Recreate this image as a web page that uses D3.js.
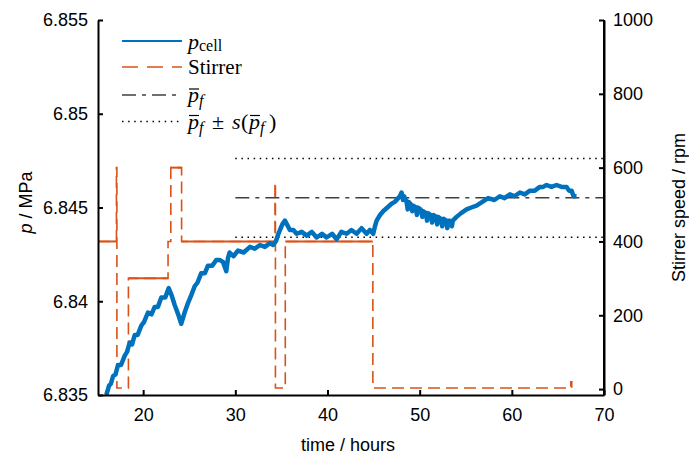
<!DOCTYPE html>
<html>
<head>
<meta charset="utf-8">
<script src="https://cdn.jsdelivr.net/npm/d3@7"></script>
<style>
  body { margin: 0; background: #fff; }
  svg { display: block; font-family: "Liberation Sans", Arial, sans-serif; }
</style>
</head>
<body>
<svg id="chart" width="689" height="454"></svg>
<script>
// time (hours), cell pressure (MPa)
var pcell = [
  [16.0,6.8350],[16.3,6.8355],[16.5,6.8356],[16.73,6.8360],[17.0,6.8361],[17.27,6.8366],
  [17.6,6.8366],[18.0,6.8371],[18.25,6.8373],[18.54,6.8378],[18.8,6.8377],[19.08,6.8382],
  [19.4,6.8382],[19.8,6.8387],[20.1,6.8389],[20.52,6.8394],[20.9,6.8393],[21.25,6.8397],
  [21.6,6.8397],[21.97,6.8402],[22.4,6.8402],[22.77,6.8407],[23.1,6.8403],[23.42,6.8398],
  [23.8,6.8393],[24.13,6.8388],[24.5,6.8394],[24.86,6.8399],[25.2,6.8403],[25.59,6.8408],
  [25.9,6.8410],[26.3,6.8415],[26.7,6.8415],[27.03,6.8419],[27.5,6.8419],[27.93,6.8422],
  [28.3,6.8422],[28.66,6.8421],[29.02,6.8416],[29.2,6.8423],[29.38,6.8426],[29.8,6.8424],
  [30.28,6.8427],[30.9,6.8426],[31.59,6.8429],[32.1,6.8428],[32.67,6.8430],[33.2,6.8429],
  [33.76,6.8431],[34.1,6.8430],[34.41,6.8432],[34.6,6.8435],[34.84,6.8438],[35.1,6.8441],
  [35.38,6.8443],[35.6,6.8441],[35.92,6.8438],[36.3,6.8438],[36.65,6.8436],[37.2,6.8437],
  [37.74,6.8435],[38.3,6.8437],[38.82,6.8434],[39.4,6.8436],[39.9,6.8434],[40.5,6.8436],
  [40.99,6.8433],[41.5,6.8437],[42.07,6.8436],[42.6,6.8438],[43.16,6.8436],[43.7,6.8439],
  [44.24,6.8436],[44.6,6.8438],[44.96,6.8436],[45.15,6.8440],[45.33,6.8443],[45.7,6.8446],
  [46.04,6.8448],[46.5,6.8450],[46.95,6.8452],[47.3,6.8453],[47.67,6.8455],[47.85,6.8456],
  [48.04,6.8458],[48.2,6.8454],[48.3,6.8456],[48.58,6.8453],[48.7,6.8449],[48.8,6.8453],
  [49.0,6.8452],[49.2,6.8448],[49.3,6.8451],[49.6,6.8450],[49.7,6.8446],[49.8,6.8450],
  [50.1,6.8449],[50.3,6.8445],[50.4,6.8448],[50.7,6.8447],[50.8,6.8443],[50.9,6.8447],
  [51.2,6.8446],[51.35,6.8442],[51.5,6.8446],[51.8,6.8445],[51.9,6.8441],[52.0,6.8445],
  [52.3,6.8444],[52.45,6.8440],[52.6,6.8444],[52.9,6.8443],[53.0,6.8439],[53.1,6.8443],
  [53.3,6.8443],[53.5,6.8440],[53.6,6.8443],[54.0,6.8445],[54.5,6.8447],[55.09,6.8449],
  [55.6,6.8450],[56.17,6.8451],[56.8,6.8453],[57.43,6.8455],[58.1,6.8454],[58.7,6.8456],
  [59.2,6.8455],[59.79,6.8457],[60.3,6.8456],[60.87,6.8458],[61.4,6.8457],[61.96,6.8459],
  [62.5,6.8459],[63.04,6.8461],[63.4,6.8461],[63.77,6.8462],[64.3,6.8461],[64.85,6.8462],
  [65.4,6.8461],[65.94,6.8461],[66.2,6.8459],[66.48,6.8459],[66.7,6.8456],[67.02,6.8456]
];

// time (hours), stirrer speed (rpm)
var stirrer = [
  [15.1,400],[17.1,400],[17.1,600],[17.15,600],[17.15,3],[18.4,3],[18.4,300],
  [22.7,300],[22.7,400],[23.0,400],[23.0,600],[24.17,600],[24.17,400],
  [34.3,400],[34.3,560],[34.35,560],[34.35,3],[35.42,3],[35.42,400],
  [44.92,400],[44.92,3],[66.4,3],[66.4,20],[66.5,20],[66.5,3],[66.6,3]
];

var pMean = 6.84552;
var pStd = 0.00210;
var meanFrom = 30, meanTo = 70;

var pTicks = [6.835, 6.84, 6.845, 6.85, 6.855];
var timeTicks = [20, 30, 40, 50, 60, 70];
var rpmTicks = [0, 200, 400, 600, 800, 1000];

var margin = {top: 20, right: 85, bottom: 59, left: 98},
    width = 689 - margin.left - margin.right,
    height = 454 - margin.top - margin.bottom;

var x = d3.scaleLinear().domain([15.1, 70]).range([0, width]);
var y = d3.scaleLinear().domain([6.835, 6.855]).range([height, 0]);
var y2 = d3.scaleLinear().domain([-16, 1000]).range([height, 0]);

var blue = "#0072BD", orange = "#D95319";

var svg = d3.select("#chart");
var g = svg.append("g")
    .attr("transform", "translate(" + margin.left + "," + margin.top + ")");

var stirLine = d3.line().x(function(d) { return x(d[0]); }).y(function(d) { return y2(d[1]); });

// stirrer (right axis), dashed
g.append("path")
    .datum(stirrer)
    .attr("fill", "none")
    .attr("stroke", orange)
    .attr("stroke-width", 1.6)
    .attr("stroke-dasharray", "12,6")
    .attr("d", stirLine);

// plateaus above zero look solid in the original (dense noisy samples)
var plateaus = [];
for (var i = 1; i < stirrer.length; i++) {
  if (stirrer[i][1] === stirrer[i - 1][1] && stirrer[i][1] > 100 && stirrer[i][0] - stirrer[i - 1][0] > 0.5) {
    plateaus.push([stirrer[i - 1], stirrer[i]]);
  }
}
g.selectAll(".plateau")
    .data(plateaus)
  .enter().append("path")
    .attr("class", "plateau")
    .attr("fill", "none")
    .attr("stroke", orange)
    .attr("stroke-width", 2)
    .attr("d", stirLine);

// mean and +/- std lines
g.append("line")
    .attr("x1", x(meanFrom)).attr("x2", x(meanTo))
    .attr("y1", y(pMean)).attr("y2", y(pMean))
    .attr("stroke", "#404040").attr("stroke-width", 1.6)
    .attr("stroke-dasharray", "14,6,4,6");
[pMean + pStd, pMean - pStd].forEach(function(v) {
  g.append("line")
      .attr("x1", x(meanFrom)).attr("x2", x(meanTo))
      .attr("y1", y(v)).attr("y2", y(v))
      .attr("stroke", "#000").attr("stroke-width", 1.5)
      .attr("stroke-dasharray", "1.5,4.6");
});

// cell pressure
g.append("path")
    .datum(pcell)
    .attr("fill", "none")
    .attr("stroke", blue)
    .attr("stroke-width", 4.5)
    .attr("stroke-linejoin", "round")
    .attr("d", d3.line().x(function(d) { return x(d[0]); }).y(function(d) { return y(d[1]); }));

// axes
function styleAxis(sel) {
  sel.selectAll("path").attr("stroke", "#000").attr("stroke-width", 2);
  sel.selectAll("line").attr("stroke", "#000").attr("stroke-width", 2);
  sel.selectAll("text").attr("font-size", "18px").attr("fill", "#000")
      .attr("font-family", "Liberation Sans, Arial, sans-serif");
}

var fmtP = function(d) { return String(+d.toFixed(3)); };

g.append("g")
    .call(d3.axisLeft(y).tickValues(pTicks).tickFormat(fmtP)
      .tickSizeInner(-5).tickSizeOuter(0).tickPadding(10))
    .call(styleAxis);

g.append("g")
    .attr("transform", "translate(0," + height + ")")
    .call(d3.axisBottom(x).tickValues(timeTicks).tickFormat(d3.format("d"))
      .tickSizeInner(-5).tickSizeOuter(0).tickPadding(13))
    .call(styleAxis);

g.append("g")
    .attr("transform", "translate(" + width + ",0)")
    .call(d3.axisRight(y2).tickValues(rpmTicks).tickFormat(d3.format("d"))
      .tickSizeInner(-5).tickSizeOuter(0).tickPadding(9))
    .call(styleAxis);

// right axis domain line should cover full plot height
g.append("line")
    .attr("x1", width).attr("x2", width)
    .attr("y1", 0).attr("y2", height)
    .attr("stroke", "#000").attr("stroke-width", 2);

// axis labels
var lbl = svg.append("text")
    .attr("transform", "translate(32," + (margin.top + height / 2 - 5) + ") rotate(-90)")
    .attr("text-anchor", "middle")
    .attr("font-size", "18px");
lbl.append("tspan").attr("font-style", "italic").text("p");
lbl.append("tspan").text(" / MPa");

svg.append("text")
    .attr("x", margin.left + width / 2 - 3)
    .attr("y", 451)
    .attr("text-anchor", "middle")
    .attr("font-size", "18px")
    .text("time / hours");

svg.append("text")
    .attr("transform", "translate(685," + (margin.top + height / 2) + ") rotate(-90)")
    .attr("text-anchor", "middle")
    .attr("font-size", "18px")
    .text("Stirrer speed / rpm");

// legend
var legend = svg.append("g").attr("font-family", "Liberation Serif, Times New Roman, serif");
var lx1 = 122, lx2 = 182, tx = 188;
var rows = [41, 67, 95, 121.5];

legend.append("line").attr("x1", lx1).attr("x2", lx2).attr("y1", rows[0]).attr("y2", rows[0])
    .attr("stroke", blue).attr("stroke-width", 2);
legend.append("line").attr("x1", lx1).attr("x2", lx2).attr("y1", rows[1]).attr("y2", rows[1])
    .attr("stroke", orange).attr("stroke-width", 1.6).attr("stroke-dasharray", "16,9");
legend.append("line").attr("x1", lx1).attr("x2", lx2).attr("y1", rows[2]).attr("y2", rows[2])
    .attr("stroke", "#404040").attr("stroke-width", 1.6).attr("stroke-dasharray", "14,6,4,6");
legend.append("line").attr("x1", lx1).attr("x2", lx2).attr("y1", rows[3]).attr("y2", rows[3])
    .attr("stroke", "#000").attr("stroke-width", 1.5).attr("stroke-dasharray", "1.5,4.6");

var t1 = legend.append("text").attr("x", tx).attr("y", rows[0] + 8).attr("font-size", "22px");
t1.append("tspan").attr("font-style", "italic").text("p");
t1.append("tspan").attr("font-size", "16px").attr("dy", 2).text("cell");

legend.append("text").attr("x", tx).attr("y", rows[1] + 7).attr("font-size", "21px").text("Stirrer");

function pbar(sel, xx, yy) {
  // italic p with a bar and subscript f
  var t = sel.append("text").attr("x", xx).attr("y", yy).attr("font-size", "22px");
  t.append("tspan").attr("font-style", "italic").text("p");
  t.append("tspan").attr("font-style", "italic").attr("font-size", "16px").attr("dy", 4).text("f");
  sel.append("line").attr("x1", xx + 1).attr("x2", xx + 11)
      .attr("y1", yy - 13).attr("y2", yy - 13)
      .attr("stroke", "#000").attr("stroke-width", 1.2);
}
pbar(legend, tx, rows[2] + 7);

var by = rows[3] + 7;
pbar(legend, tx, by);
legend.append("text").attr("x", tx + 24).attr("y", by).attr("font-size", "22px").text("\u00B1");
legend.append("text").attr("x", tx + 44).attr("y", by).attr("font-size", "22px")
    .attr("font-style", "italic").text("s");
legend.append("text").attr("x", tx + 53).attr("y", by).attr("font-size", "22px").text("(");
pbar(legend, tx + 61, by);
legend.append("text").attr("x", tx + 81).attr("y", by).attr("font-size", "22px").text(")");
</script>
</body>
</html>
